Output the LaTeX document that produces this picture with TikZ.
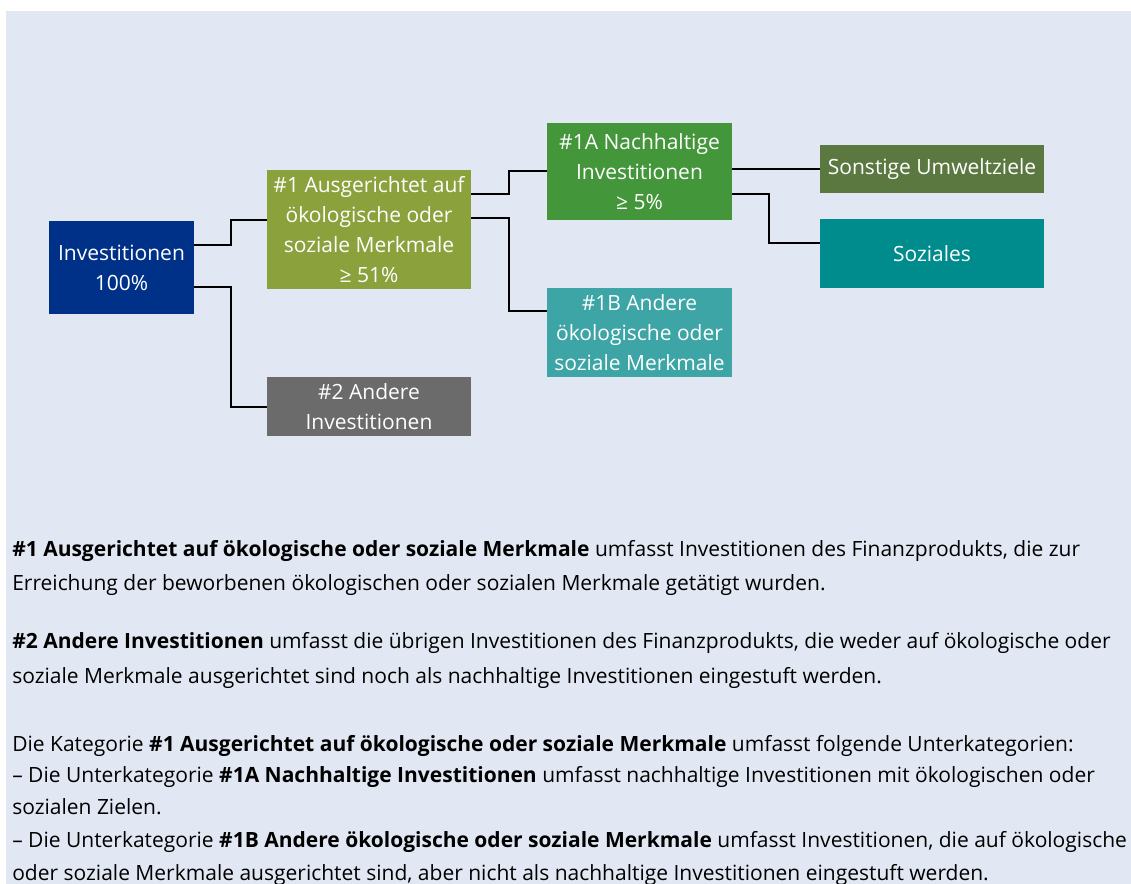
\documentclass[tikz,border=0pt]{standalone}
\usepackage{fontspec}
\setmainfont{Open Sans}
\definecolor{panelbg}{HTML}{E1E8F3}
\definecolor{invblue}{HTML}{003189}
\definecolor{olivegreen}{HTML}{8AA13C}
\definecolor{othergray}{HTML}{6B6B6B}
\definecolor{sustgreen}{HTML}{43963A}
\definecolor{otherteal}{HTML}{3DA5A5}
\definecolor{envgreen}{HTML}{5B7841}
\definecolor{socteal}{HTML}{008C8C}
\begin{document}
\begin{tikzpicture}[x=0.75pt,y=-0.75pt,
    box/.style={fill=#1, text=white, align=center, inner sep=0pt, font=\fontsize{15.75}{22.5}\selectfont},
    link/.style={line width=1.5pt},
    body/.style={anchor=base west, inner sep=0pt, font=\fontsize{15.75}{18}\selectfont}]

    \useasboundingbox (0,0) rectangle (1131,884);
    \fill[panelbg] (6,11) rectangle (1131,884);

    \node[box=invblue, minimum width=108.75pt, minimum height=69.4pt] (inv) at (121.5,267.5) {Investitionen\\100\%};
    \node[box=olivegreen, minimum width=153pt, minimum height=88.9pt] (a1) at (369,229.5) {\#1 Ausgerichtet auf\\ökologische oder\\soziale Merkmale\\≥ 51\%};
    \node[box=othergray, minimum width=153pt, minimum height=44.6pt] (a2) at (369,406.7) {\#2 Andere\\Investitionen};
    \node[box=sustgreen, minimum width=138.75pt, minimum height=72.8pt] (a1A) at (639.5,171.5) {\#1A Nachhaltige\\Investitionen\\≥ 5\%};
    \node[box=otherteal, minimum width=138.75pt, minimum height=66.5pt] (a1B) at (639.5,332.3) {\#1B Andere\\ökologische oder\\soziale Merkmale};
    \node[box=envgreen, minimum width=168pt, minimum height=35.8pt] (env) at (932,169) {Sonstige Umweltziele};
    \node[box=socteal, minimum width=168pt, minimum height=51.5pt] (soc) at (932,253.3) {Soziales};

    \draw[link] ([yshift=16.9pt]inv.east) -- ++(36.5,0) |- ([yshift=7.1pt]a1.west);
    \draw[link] ([yshift=-14.6pt]inv.east) -- ++(36.5,0) |- (a2.west);
    \draw[link] ([yshift=26.6pt]a1.east) -- ++(38,0) |- ([yshift=0.6pt]a1A.west);
    \draw[link] ([yshift=8.6pt]a1.east) -- ++(38,0) |- ([yshift=15.75pt]a1B.west);
    \draw[link] (a1A.east |- env.west) -- (env.west);
    \draw[link] ([yshift=-16.9pt]a1A.east) -- ++(37,0) |- ([yshift=8pt]soc.west);

    \node[body] (t1) at (12,556) {\textbf{\#1 Ausgerichtet auf ökologische oder soziale Merkmale} umfasst Investitionen des Finanzprodukts, die zur};
    \node[body] (t2) at (12,590) {Erreichung der beworbenen ökologischen oder sozialen Merkmale getätigt wurden.};
    \node[body] (t3) at (12,648) {\textbf{\#2 Andere Investitionen} umfasst die übrigen Investitionen des Finanzprodukts, die weder auf ökologische oder};
    \node[body] (t4) at (12,683) {soziale Merkmale ausgerichtet sind noch als nachhaltige Investitionen eingestuft werden.};
    \node[body] (t5) at (12,751) {Die Kategorie \textbf{\#1 Ausgerichtet auf ökologische oder soziale Merkmale} umfasst folgende Unterkategorien:};
    \node[body] (t6) at (12,782) {– Die Unterkategorie \textbf{\#1A Nachhaltige Investitionen} umfasst nachhaltige Investitionen mit ökologischen oder};
    \node[body] (t7) at (12,814) {sozialen Zielen.};
    \node[body] (t8) at (12,847) {– Die Unterkategorie \textbf{\#1B Andere ökologische oder soziale Merkmale} umfasst Investitionen, die auf ökologische};
    \node[body] (t9) at (12,880) {oder soziale Merkmale ausgerichtet sind, aber nicht als nachhaltige Investitionen eingestuft werden.};

\end{tikzpicture}
\end{document}
